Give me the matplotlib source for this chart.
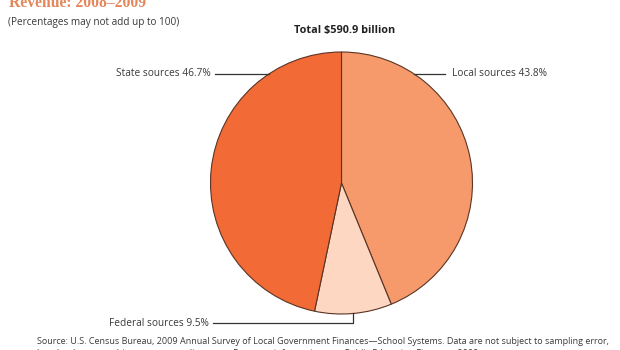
import matplotlib
matplotlib.use("Agg")
import matplotlib.pyplot as plt
import numpy as np

categories = ["Local sources", "Federal sources", "State sources"]
values = [43.8, 9.5, 46.7]
colors = ["#F69A6C", "#FDD7C1", "#F26A36"]
title = "Revenue: 2008\u20132009"
subtitle = "(Percentages may not add up to 100)"
total_label = "Total $590.9 billion"
source_line1 = ("Source: U.S. Census Bureau, 2009 Annual Survey of Local Government Finances\u2014School Systems. "
                "Data are not subject to sampling error,")
source_line2 = "but the data are subject to nonsampling error. For more information, see Public Education Finances: 2009."

W, H = 620, 350
fig = plt.figure(figsize=(W / 100, H / 100), dpi=100)
fig.patch.set_facecolor("white")

FONT = "Open Sans"
TXT = "#3a3a3a"
LBL = 7.3

def fx(px):
    return px / W

def fy(py):
    return 1 - py / H

# pie axes
cx, cy, r = 341.5, 183.0, 131.0
ax = fig.add_axes([fx(cx - r), fy(cy + r), 2 * r / W, 2 * r / H])
wedges, _ = ax.pie(values, colors=colors, startangle=90, counterclock=False,
                   radius=1.0,
                   wedgeprops=dict(edgecolor="#5a3424", linewidth=0.8))
ax.set_xlim(-1, 1)
ax.set_ylim(-1, 1)
ax.set_aspect("equal")
ax.axis("off")

line_kw = dict(color="#333333", lw=0.9, clip_on=False)

# State / Local labels at the same height
yl = (cy - 74) / r
xc = np.sqrt(1 - yl ** 2)
# State (left)
ax.plot([-(cx - 215) / r, -xc], [yl, yl], **line_kw)
ax.text(-(cx - 211) / r, yl, f"{categories[2]} {values[2]}%", ha="right", va="center",
        fontsize=LBL, family=FONT, color=TXT)
# Local (right)
ax.plot([xc, (445 - cx) / r], [yl, yl], **line_kw)
ax.text((452 - cx) / r, yl, f"{categories[0]} {values[0]}%", ha="left", va="center",
        fontsize=LBL, family=FONT, color=TXT)
# Federal (bottom)
w = wedges[1]
mid = np.deg2rad((w.theta1 + w.theta2) / 2)
mx, my = np.cos(mid), np.sin(mid)
yb = (cy - 323) / r
ax.plot([-(cx - 213) / r, mx, mx], [yb, yb, my], **line_kw)
ax.text(-(cx - 209) / r, yb, f"{categories[1]} {values[1]}%", ha="right", va="center",
        fontsize=LBL, family=FONT, color=TXT)

# texts
fig.text(fx(9), fy(7), title, ha="left", va="baseline", fontsize=11.3,
         family="Liberation Serif", fontweight="bold", color="#E5855A")
fig.text(fx(8), fy(22), subtitle, ha="left", va="center", fontsize=7.2,
         family=FONT, color=TXT)
fig.text(fx(345), fy(31), total_label, ha="center", va="center", fontsize=7.8,
         family=FONT, fontweight="bold", color="#222222")
fig.text(fx(37), fy(341), source_line1, ha="left", va="center", fontsize=6.5,
         family=FONT, color=TXT)
fig.text(fx(37), fy(353), source_line2, ha="left", va="center", fontsize=6.5,
         family=FONT, color=TXT)

fig.savefig("out.png", dpi=100, facecolor="white")
